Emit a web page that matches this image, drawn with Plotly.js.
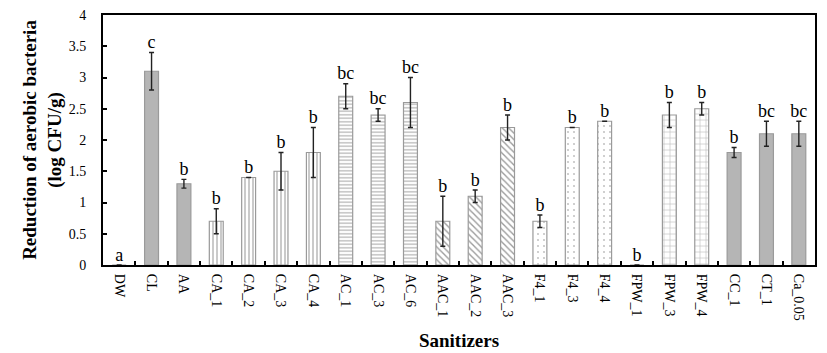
<!DOCTYPE html>
<html><head><meta charset="utf-8">
<script src="https://cdn.plot.ly/plotly-3.0.1.min.js"></script>
<style>html,body{margin:0;padding:0;background:#fff}#chart{width:827px;height:353px}</style>
</head><body><div id="chart"></div>
<script>
const categories = ["DW","CL","AA","CA_1","CA_2","CA_3","CA_4","AC_1","AC_3","AC_6","AAC_1","AAC_2","AAC_3","F4_1","F4_3","F4_4","FPW_1","FPW_3","FPW_4","CC_1","CT_1","Ca_0.05"];
const values = [0,3.1,1.3,0.7,1.4,1.5,1.8,2.7,2.4,2.6,0.7,1.1,2.2,0.7,2.2,2.3,0,2.4,2.5,1.8,2.1,2.1];
const errors = [0,0.3,0.07,0.2,0,0.3,0.4,0.2,0.1,0.4,0.4,0.1,0.2,0.1,0,0,0,0.2,0.1,0.08,0.2,0.2];
const letters = ["a","c","b","b","b","b","b","bc","bc","bc","b","b","b","b","b","b","b","b","b","b","bc","bc"];
const patterns = ["","","","|","|","|","|","-","-","-","\\","\\","\\",".",".",".","+","+","+","","",""];

// Pattern styling per hatch type (in "replace" mode the bar colour becomes the hatch colour).
const style = {
  "":   {color: "#b5b5b5", size: 4, solidity: 0.3},
  "|":  {color: "#a6a6a6", size: 4, solidity: 0.3},
  "-":  {color: "#a6a6a6", size: 3.5, solidity: 0.3},
  "\\": {color: "#9a9a9a", size: 4.5, solidity: 0.3},
  ".":  {color: "#c4c4c4", size: 6, solidity: 0.1},
  "+":  {color: "#bdbdbd", size: 6, solidity: 0.2}
};
const barColors = patterns.map(p => style[p].color);
const patSizes = patterns.map(p => style[p].size);
const patSolid = patterns.map(p => style[p].solidity);
const labelY = values.map((v,i) => v + errors[i]);

const font = "Liberation Serif, Times New Roman, serif";
const bars = {
  type: "bar", x: categories, y: values,
  marker: {
    color: barColors,
    line: {color: "#9a9a9a", width: 1.2},
    pattern: {shape: patterns, size: patSizes, solidity: patSolid}
  },
  error_y: {type: "data", array: errors, visible: true, color: "#222", thickness: 1.4, width: 2.5},
  hoverinfo: "none", showlegend: false
};
const labels = {
  type: "scatter", mode: "text", x: categories, y: labelY, text: letters,
  textposition: "top center", textfont: {family: font, size: 18, color: "#000"},
  cliponaxis: false, showlegend: false, hoverinfo: "none"
};
const layout = {
  width: 827, height: 353,
  margin: {l: 103, r: 12, t: 15, b: 88},
  paper_bgcolor: "#fff", plot_bgcolor: "#fff",
  bargap: 0.57,
  font: {family: font, color: "#000"},
  xaxis: {
    type: "category", range: [-0.5, 21.5], automargin: false, tickangle: 90, tickfont: {family: font, size: 14},
    ticks: "inside", tickson: "boundaries", ticklen: 4, tickwidth: 2, tickcolor: "#000",
    showline: true, linecolor: "#000", linewidth: 2, mirror: true, showgrid: false, zeroline: false,
    ticklabelstandoff: 4,
    title: {text: "<b>Sanitizers</b>", font: {family: font, size: 19}, standoff: 14}
  },
  yaxis: {
    range: [0, 4], dtick: 0.5, automargin: false, tickfont: {family: font, size: 14},
    ticks: "inside", ticklen: 4, tickwidth: 2, tickcolor: "#000",
    showline: true, linecolor: "#000", linewidth: 2, mirror: true, showgrid: false, zeroline: false,
    ticklabelstandoff: 12,
    title: {text: "<b>Reduction of aerobic bacteria<br>(log CFU/g)</b>", font: {family: font, size: 19}, standoff: 2}
  }
};
Plotly.newPlot("chart", [bars, labels], layout, {displayModeBar: false, staticPlot: true});
</script></body></html>
